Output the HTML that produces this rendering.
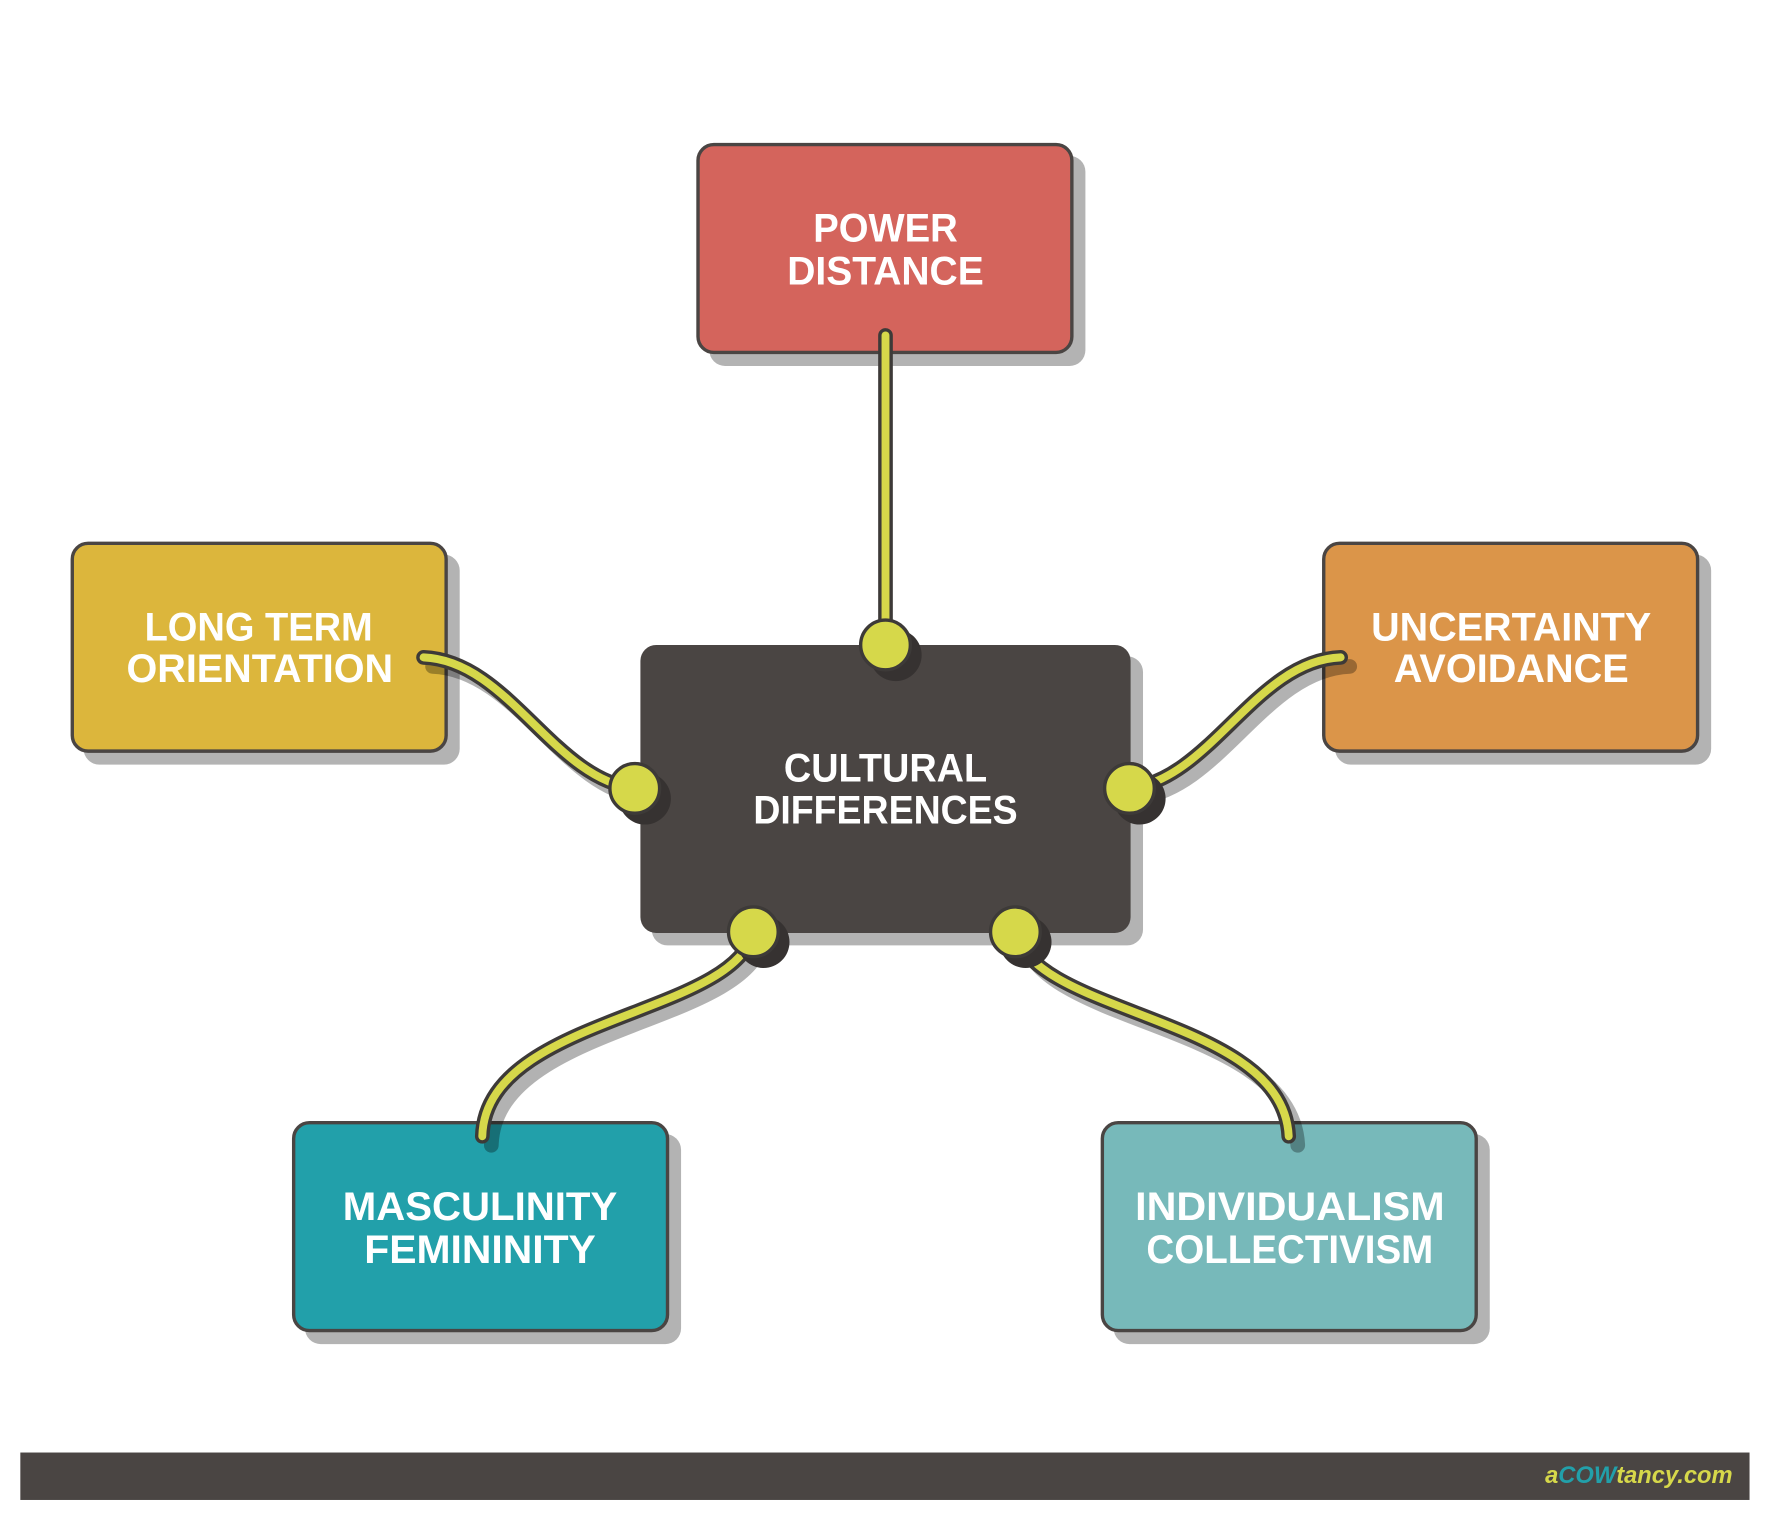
<!DOCTYPE html>
<html><head><meta charset="utf-8"><style>
html,body{margin:0;padding:0;background:#fff;}
svg{display:block;}
text{font-family:"Liberation Sans",sans-serif;font-weight:bold;fill:#fff;font-size:35px;}
</style></head><body>
<svg width="1771" height="1521" viewBox="0 0 1568 1346.6" xmlns="http://www.w3.org/2000/svg">
<rect width="1568" height="1346.6" fill="#fff"/>
<g fill="#b3b3b3">
<rect x="628" y="138" width="333" height="186" rx="14"/>
<rect x="74" y="491" width="333" height="186" rx="14"/>
<rect x="1182" y="491" width="333" height="186" rx="14"/>
<rect x="270" y="1004" width="333" height="186" rx="14"/>
<rect x="986" y="1004" width="333" height="186" rx="14"/>
<rect x="577" y="581" width="435" height="256" rx="14"/>
</g>
<g stroke="#4a4543" stroke-width="3">
<rect x="618" y="128" width="331" height="184" rx="14" fill="#d4645c"/>
<rect x="64" y="481" width="331" height="184" rx="14" fill="#dcb63c"/>
<rect x="1172" y="481" width="331" height="184" rx="14" fill="#db9549"/>
<rect x="260" y="994" width="331" height="184" rx="14" fill="#22a0aa"/>
<rect x="976" y="994" width="331" height="184" rx="14" fill="#77b9ba"/>
</g>
<rect x="567" y="571" width="434" height="255" rx="14" fill="#4a4543"/>
<!-- connector shadows -->
<g fill="none" stroke="#000" stroke-opacity="0.3" stroke-width="13" stroke-linecap="round">
<path d="M383,590 C458,593 498,698 570,706"/>
<path d="M1195,590 C1120,593 1080,698 1008,706"/>
<path d="M675,833 C658,908 438,908 435,1014"/>
<path d="M907,833 C924,908 1144,908 1149,1014"/>
</g>
<g fill="none" stroke="#3d3a38" stroke-width="13" stroke-linecap="round">
<path d="M784,297 L784,571"/>
<path d="M375,582 C450,585 490,690 562,698"/>
<path d="M1187,582 C1112,585 1072,690 1000,698"/>
<path d="M667,825 C650,900 430,900 427,1006"/>
<path d="M899,825 C916,900 1136,900 1141,1006"/>
</g>
<g fill="none" stroke="#d6d84a" stroke-width="7" stroke-linecap="round">
<path d="M784,297 L784,571"/>
<path d="M375,582 C450,585 490,690 562,698"/>
<path d="M1187,582 C1112,585 1072,690 1000,698"/>
<path d="M667,825 C650,900 430,900 427,1006"/>
<path d="M899,825 C916,900 1136,900 1141,1006"/>
</g>
<g fill="#363231">
<circle cx="793" cy="580" r="23"/>
<circle cx="571" cy="707" r="23"/>
<circle cx="1009" cy="707" r="23"/>
<circle cx="676" cy="834" r="23"/>
<circle cx="908" cy="834" r="23"/>
</g>
<g fill="#d6d84a" stroke="#3d3a38" stroke-width="3">
<circle cx="784" cy="571" r="22"/>
<circle cx="562" cy="698" r="22"/>
<circle cx="1000" cy="698" r="22"/>
<circle cx="667" cy="825" r="22"/>
<circle cx="899" cy="825" r="22"/>
</g>
<g text-anchor="middle">
<text x="784" y="214" textLength="128" lengthAdjust="spacingAndGlyphs">POWER</text>
<text x="784" y="252" textLength="174" lengthAdjust="spacingAndGlyphs">DISTANCE</text>
<text x="229" y="567" textLength="202" lengthAdjust="spacingAndGlyphs">LONG TERM</text>
<text x="230" y="604" textLength="236" lengthAdjust="spacingAndGlyphs">ORIENTATION</text>
<text x="1338" y="567" textLength="248" lengthAdjust="spacingAndGlyphs">UNCERTAINTY</text>
<text x="1338" y="604" textLength="208" lengthAdjust="spacingAndGlyphs">AVOIDANCE</text>
<text x="784" y="692" textLength="180" lengthAdjust="spacingAndGlyphs">CULTURAL</text>
<text x="784" y="729" textLength="234" lengthAdjust="spacingAndGlyphs">DIFFERENCES</text>
<text x="425" y="1080" textLength="243" lengthAdjust="spacingAndGlyphs">MASCULINITY</text>
<text x="425" y="1118" textLength="205" lengthAdjust="spacingAndGlyphs">FEMININITY</text>
<text x="1142" y="1080" textLength="274" lengthAdjust="spacingAndGlyphs">INDIVIDUALISM</text>
<text x="1142" y="1118" textLength="254" lengthAdjust="spacingAndGlyphs">COLLECTIVISM</text>
</g>
<rect x="18" y="1286" width="1531" height="42" fill="#4a4543"/>
<text x="1534" y="1313" text-anchor="end" font-size="21" font-style="italic" style="font-size:21px;font-style:italic"><tspan fill="#d6d84a">a</tspan><tspan fill="#22a0aa">COW</tspan><tspan fill="#d6d84a">tancy.com</tspan></text>
</svg>
</body></html>
